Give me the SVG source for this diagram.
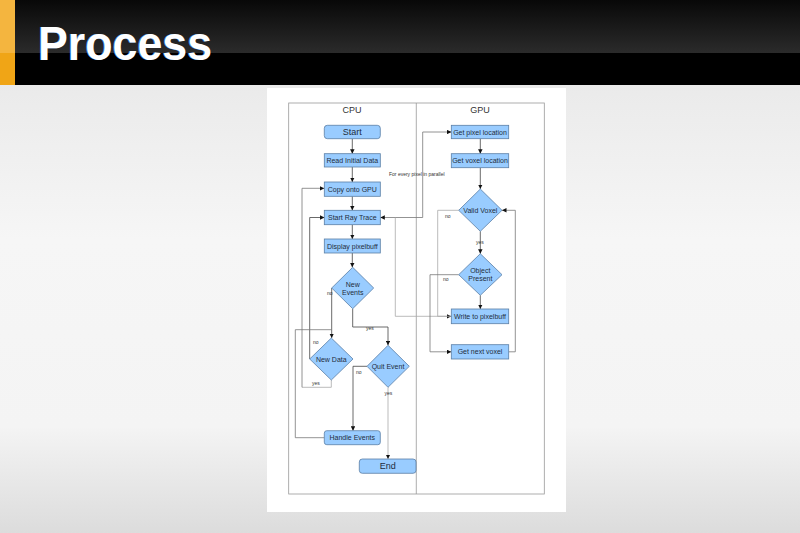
<svg xmlns="http://www.w3.org/2000/svg" width="800" height="533" viewBox="0 0 800 533">
  <defs>
    <linearGradient id="bg" x1="0" y1="0" x2="0" y2="1">
      <stop offset="0" stop-color="#e4e4e4"/>
      <stop offset="0.45" stop-color="#f6f6f6"/>
      <stop offset="0.8" stop-color="#f4f4f4"/>
      <stop offset="1" stop-color="#dcdcdc"/>
    </linearGradient>
    <linearGradient id="gloss" x1="0" y1="0" x2="0" y2="1">
      <stop offset="0" stop-color="#080808"/>
      <stop offset="1" stop-color="#2b2b2b"/>
    </linearGradient>
    <marker id="arr" viewBox="0 0 10 10" refX="10" refY="5" markerWidth="4.5" markerHeight="4.5" orient="auto" markerUnits="userSpaceOnUse">
      <path d="M0,0 L10,5 L0,10 Z" fill="#111"/>
    </marker>
    <style>
      .box { fill: #99ccff; stroke: #5b7fa6; stroke-width: 0.8; }
      .lbl { font-family: "Liberation Sans", Arial, sans-serif; font-size: 7px; fill: #1f2d3d; text-anchor: middle; }
      .big { font-size: 9px; }
      .sm { font-family: "Liberation Sans", Arial, sans-serif; font-size: 5px; fill: #333; }
      .hdr { font-family: "Liberation Sans", Arial, sans-serif; font-size: 9px; fill: #333; text-anchor: middle; }
      .dk { fill: none; stroke: #444; stroke-width: 0.8; }
      .md { fill: none; stroke: #777; stroke-width: 0.8; }
      .lt { fill: none; stroke: #aaa; stroke-width: 0.8; }
      .a { marker-end: url(#arr); }
    </style>
  </defs>

  <!-- slide background -->
  <rect x="0" y="0" width="800" height="533" fill="url(#bg)"/>
  <rect x="0" y="0" width="800" height="85" fill="#000"/>
  <rect x="0" y="0" width="800" height="53" fill="url(#gloss)"/>
  <rect x="0" y="0" width="15" height="85" fill="#f0a516"/>
  <rect x="0" y="0" width="15" height="53" fill="#f4b53f"/>
  <text x="38" y="60" font-family="Liberation Sans, Arial, sans-serif" font-weight="bold" font-size="48" fill="#3a7fd0" textLength="174" lengthAdjust="spacingAndGlyphs" transform="translate(-0.8,0)">Process</text>
  <text x="38" y="60" font-family="Liberation Sans, Arial, sans-serif" font-weight="bold" font-size="48" fill="#ffffff" textLength="174" lengthAdjust="spacingAndGlyphs">Process</text>

  <!-- white panel -->
  <rect x="267" y="88" width="299" height="424" fill="#ffffff"/>

  <!-- swimlanes -->
  <g id="lanes">
    <rect x="288.7" y="103" width="255.6" height="391" fill="none" stroke="#999" stroke-width="0.8"/>
    <line x1="416.3" y1="103" x2="416.3" y2="494" stroke="#999" stroke-width="0.8"/>
    <text class="hdr" x="352" y="113">CPU</text>
    <text class="hdr" x="480" y="113">GPU</text>
  </g>

  <!-- connectors -->
  <g id="connectors">
    <line class="dk a" x1="352.3" y1="138.7" x2="352.3" y2="153.7"/>
    <line class="dk a" x1="352.3" y1="167" x2="352.3" y2="182"/>
    <line class="dk a" x1="352.3" y1="196.3" x2="352.3" y2="210.3"/>
    <line class="dk a" x1="352.3" y1="224.7" x2="352.3" y2="239"/>
    <line class="dk a" x1="352.3" y1="253" x2="352.3" y2="267.3"/>
    <!-- SRT <-> Get pixel -->
    <polyline class="md a" points="422.7,217.5 422.7,132 451.3,132"/>
    <line class="md a" x1="422.7" y1="217.5" x2="380.3" y2="217.5"/>
    <polyline class="lt a" points="395.3,217.5 395.3,316.3 451.3,316.3"/>
    <text class="sm" x="389" y="176">For every pixel in parallel</text>
    <!-- GPU flow -->
    <line class="dk a" x1="480.3" y1="138.7" x2="480.3" y2="153.7"/>
    <line class="dk a" x1="480.3" y1="167.7" x2="480.3" y2="189"/>
    <line class="dk a" x1="480.3" y1="231.3" x2="480.3" y2="253.7"/>
    <text class="sm" x="476" y="244">yes</text>
    <line class="dk a" x1="480.3" y1="295.3" x2="480.3" y2="309"/>
    <polyline class="lt" points="458.7,210.3 437.7,210.3 437.7,316.3 451.3,316.3"/>
    <text class="sm" x="445" y="217.5">no</text>
    <polyline class="md a" points="458.7,274.7 430,274.7 430,351.8 451.3,351.8"/>
    <text class="sm" x="443" y="281">no</text>
    <polyline class="md a" points="508.7,351.8 515.3,351.8 515.3,210.3 502,210.3"/>
    <!-- CPU decisions -->
    <polyline class="dk a" points="331.7,288 331.7,338"/>
    <text class="sm" x="327" y="295">no</text>
    <polyline class="dk a" points="352.7,308.7 352.7,327 388,327 388,345.3"/>
    <text class="sm" x="366" y="330">yes</text>
    <polyline class="dk a" points="309.7,359 309.7,217.5 324.3,217.5"/>
    <text class="sm" x="313" y="344">no</text>
    <polyline class="lt" points="331.3,380 331.3,387.3 302,387.3"/>
    <polyline class="md a" points="302,387.3 302,188.3 324.3,188.3"/>
    <text class="sm" x="312" y="385">yes</text>
    <polyline class="md" points="324.3,437.7 295.3,437.7 295.3,329.7 331.7,329.7"/>
    <polyline class="dk a" points="367,366.3 353,366.3 353,430.7"/>
    <text class="sm" x="356" y="374">no</text>
    <polyline class="lt a" points="388,387.3 388,459"/>
    <text class="sm" x="384.5" y="395">yes</text>
  </g>

  <!-- CPU nodes -->
  <g id="start">
    <rect class="box" x="324.3" y="125.3" width="56" height="13.4" rx="3"/>
    <text class="lbl big" x="352.3" y="135.3">Start</text>
  </g>
  <g id="read-initial-data">
    <rect class="box" x="324.3" y="153.7" width="56" height="13.3"/>
    <text class="lbl" x="352.3" y="162.8">Read Initial Data</text>
  </g>
  <g id="copy-onto-gpu">
    <rect class="box" x="324.3" y="182" width="56" height="14.3"/>
    <text class="lbl" x="352.3" y="191.6">Copy onto GPU</text>
  </g>
  <g id="start-ray-trace">
    <rect class="box" x="324.3" y="210.3" width="56" height="14.4"/>
    <text class="lbl" x="352.3" y="220">Start Ray Trace</text>
  </g>
  <g id="display-pixelbuff">
    <rect class="box" x="324.3" y="239" width="56" height="14"/>
    <text class="lbl" x="352.3" y="248.5">Display pixelbuff</text>
  </g>
  <g id="new-events">
    <polygon class="box" points="352.7,267.3 373.7,288 352.7,308.7 331.7,288"/>
    <text class="lbl" x="352.7" y="287">New</text>
    <text class="lbl" x="352.7" y="295">Events</text>
  </g>
  <g id="new-data">
    <polygon class="box" points="331.3,338 353,359 331.3,380 309.7,359"/>
    <text class="lbl" x="331.3" y="361.5">New Data</text>
  </g>
  <g id="quit-event">
    <polygon class="box" points="388,345.3 409.3,366.3 388,387.3 367,366.3"/>
    <text class="lbl" x="388" y="368.8">Quit Event</text>
  </g>
  <g id="handle-events">
    <rect class="box" x="324.3" y="430.7" width="56" height="14" rx="2.5"/>
    <text class="lbl" x="352.3" y="440.2">Handle Events</text>
  </g>
  <g id="end">
    <rect class="box" x="359.3" y="459" width="56.7" height="14.3" rx="3"/>
    <text class="lbl big" x="387.7" y="469.3">End</text>
  </g>

  <!-- GPU nodes -->
  <g id="get-pixel-location">
    <rect class="box" x="451.3" y="125.3" width="57.4" height="13.4"/>
    <text class="lbl" x="480" y="134.5">Get pixel location</text>
  </g>
  <g id="get-voxel-location">
    <rect class="box" x="451.3" y="153.7" width="57.4" height="14"/>
    <text class="lbl" x="480" y="163.2">Get voxel location</text>
  </g>
  <g id="valid-voxel">
    <polygon class="box" points="480.3,189 502,210.3 480.3,231.3 458.7,210.3"/>
    <text class="lbl" x="480.3" y="212.8">Valid Voxel</text>
  </g>
  <g id="object-present">
    <polygon class="box" points="480.3,253.7 502,274.7 480.3,295.3 458.7,274.7"/>
    <text class="lbl" x="480.3" y="273">Object</text>
    <text class="lbl" x="480.3" y="281">Present</text>
  </g>
  <g id="write-to-pixelbuff">
    <rect class="box" x="451.3" y="309" width="57.4" height="14.7"/>
    <text class="lbl" x="480" y="318.8">Write to pixelbuff</text>
  </g>
  <g id="get-next-voxel">
    <rect class="box" x="451.3" y="344.7" width="57.4" height="14.3"/>
    <text class="lbl" x="480" y="354.3">Get next voxel</text>
  </g>
</svg>
